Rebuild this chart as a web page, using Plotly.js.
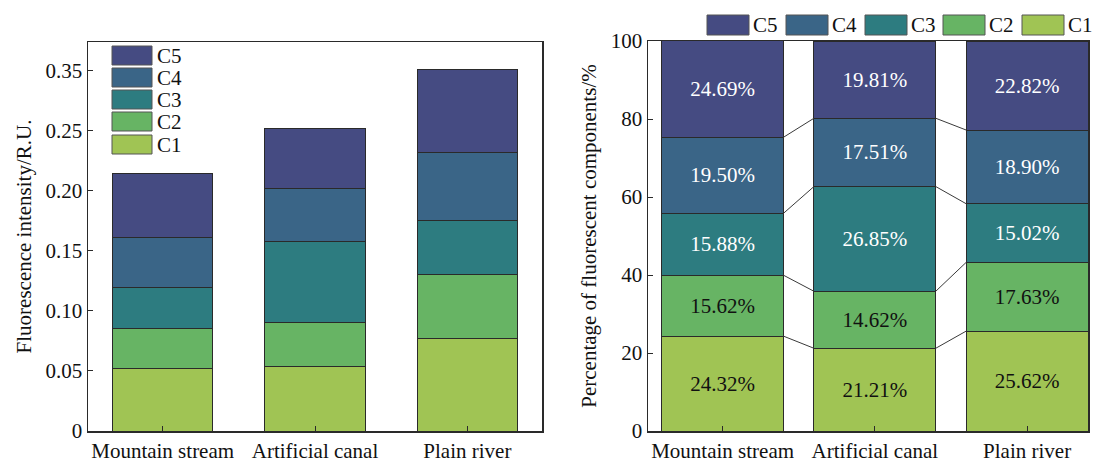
<!DOCTYPE html>
<html><head><meta charset="utf-8">
<script src="https://cdn.plot.ly/plotly-3.0.1.min.js"></script>
<style>html,body{margin:0;padding:0;background:#fff}</style>
</head><body><div id="chart" style="width:1093px;height:464px"></div>
<script>
// ---- data ----
const categories = ["Mountain stream", "Artificial canal", "Plain river"];
const components = ["C1", "C2", "C3", "C4", "C5"];
const colors = ["#a0c454", "#67b464", "#2d7c80", "#3a6587", "#454b82"];
const labelColors = ["#111111", "#111111", "#ffffff", "#ffffff", "#ffffff"];

// Fluorescence intensity (R.U.)
const intensityC1 = [0.0521, 0.0534, 0.0771];
const intensityC2 = [0.0334, 0.0368, 0.0531];
const intensityC3 = [0.0340, 0.0676, 0.0452];
const intensityC4 = [0.0418, 0.0441, 0.0569];
const intensityC5 = [0.0529, 0.0499, 0.0687];

// Percentage of fluorescent components (%)
const percentC1 = [24.32, 21.21, 25.62];
const percentC2 = [15.62, 14.62, 17.63];
const percentC3 = [15.88, 26.85, 15.02];
const percentC4 = [19.50, 17.51, 18.90];
const percentC5 = [24.69, 19.81, 22.82];

const leftTickVals = [0, 0.05, 0.10, 0.15, 0.20, 0.25, 0.30];
const leftTickText = ["0", "0.05", "0.10", "0.15", "0.20", "0.25", "0.35"];
const rightTickVals = [0, 20, 40, 60, 80, 100];
const rightTickText = ["0", "20", "40", "60", "80", "100"];

// ---- build ----
const W = 1093, H = 464;
const FONT = "'Liberation Serif', 'Times New Roman', 'DejaVu Serif', serif";
const intensity = [intensityC1, intensityC2, intensityC3, intensityC4, intensityC5];
const percent = [percentC1, percentC2, percentC3, percentC4, percentC5];
const xIdx = categories.map((c, i) => i);
const lineCol = "#2a2a2a";

const traces = [];
components.forEach((name, k) => {
  traces.push({
    type: "bar", x: xIdx, y: intensity[k], name: name, width: 0.66,
    marker: {color: colors[k], line: {color: lineCol, width: 1}},
    xaxis: "x", yaxis: "y", showlegend: false, hoverinfo: "skip"
  });
});
components.forEach((name, k) => {
  traces.push({
    type: "bar", x: xIdx, y: percent[k], name: name, width: 0.8,
    marker: {color: colors[k], line: {color: lineCol, width: 1}},
    text: percent[k].map(v => v.toFixed(2) + "%"),
    textposition: "inside", insidetextanchor: "middle", textangle: 0,
    constraintext: "none",
    textfont: {family: FONT, size: 21, color: labelColors[k]},
    xaxis: "x2", yaxis: "y2", showlegend: false, hoverinfo: "skip"
  });
});
// connector lines between stacked boundaries
const cum = [];
let run = categories.map(() => 0);
percent.forEach(p => { run = run.map((v, i) => v + p[i]); cum.push(run.slice()); });
for (let k = 0; k < 4; k++) {
  const xs = [], ys = [];
  for (let i = 0; i < categories.length - 1; i++) {
    xs.push(i + 0.4, i + 0.6, null);
    ys.push(cum[k][i], cum[k][i + 1], null);
  }
  traces.push({type: "scatter", mode: "lines", x: xs, y: ys,
    line: {color: "#3a3a3a", width: 1}, xaxis: "x2", yaxis: "y2",
    showlegend: false, hoverinfo: "skip"});
}

// legends as paper shapes / annotations
const px = x => x / W, py = y => 1 - y / H;
const shapes = [], annotations = [];
// left legend (vertical, C5 on top)
const leftRows = [46, 68, 90, 112, 135];
components.slice().reverse().forEach((name, j) => {
  const k = components.length - 1 - j;
  const top = leftRows[j];
  shapes.push({type: "rect", xref: "paper", yref: "paper",
    x0: px(112), x1: px(152), y0: py(top + 19), y1: py(top),
    fillcolor: colors[k], line: {color: "#555", width: 1}});
  annotations.push({xref: "paper", yref: "paper", x: px(155), y: py(top + 10),
    xanchor: "left", yanchor: "middle", text: name, showarrow: false,
    font: {family: FONT, size: 21, color: "#111"}});
});
// right legend (horizontal, C5 first)
const rightLefts = [707, 786, 865, 943, 1022];
components.slice().reverse().forEach((name, j) => {
  const k = components.length - 1 - j;
  const l = rightLefts[j];
  shapes.push({type: "rect", xref: "paper", yref: "paper",
    x0: px(l), x1: px(l + 42), y0: py(35), y1: py(15),
    fillcolor: colors[k], line: {color: "#555", width: 1}});
  annotations.push({xref: "paper", yref: "paper", x: px(l + 44), y: py(25),
    xanchor: "left", yanchor: "middle", text: name, showarrow: false,
    font: {family: FONT, size: 21, color: "#111"}});
});

const axCommon = {showline: true, mirror: true, linecolor: lineCol, linewidth: 1.5,
  ticks: "inside", ticklen: 5, tickcolor: lineCol, showgrid: false, zeroline: false,
  tickfont: {family: FONT, size: 21, color: "#111"}, automargin: false, fixedrange: true};

const layout = {
  width: W, height: H, margin: {l: 0, r: 0, t: 0, b: 0},
  paper_bgcolor: "#fff", plot_bgcolor: "#fff", barmode: "stack", showlegend: false,
  font: {family: FONT, size: 21, color: "#111"},
  xaxis: Object.assign({}, axCommon, {domain: [px(88), px(542)], range: [-0.49, 2.49],
    tickmode: "array", tickvals: xIdx, ticktext: categories, anchor: "y"}),
  yaxis: Object.assign({}, axCommon, {domain: [py(431), py(42)], range: [0, 0.324],
    tickmode: "array", tickvals: leftTickVals, ticktext: leftTickText, anchor: "x",
    title: {text: "Fluorescence intensity/R.U.", font: {family: FONT, size: 21, color: "#111"}, standoff: 8}}),
  xaxis2: Object.assign({}, axCommon, {domain: [px(648), px(1088)], range: [-0.49, 2.4],
    tickmode: "array", tickvals: xIdx, ticktext: categories, anchor: "y2"}),
  yaxis2: Object.assign({}, axCommon, {domain: [py(431), py(41)], range: [0, 100],
    tickmode: "array", tickvals: rightTickVals, ticktext: rightTickText, anchor: "x2",
    title: {text: "Percentage of fluorescent components/%", font: {family: FONT, size: 21, color: "#111"}, standoff: 8}}),
  shapes: shapes, annotations: annotations
};

Plotly.newPlot("chart", traces, layout, {displayModeBar: false, staticPlot: true});
</script></body></html>
